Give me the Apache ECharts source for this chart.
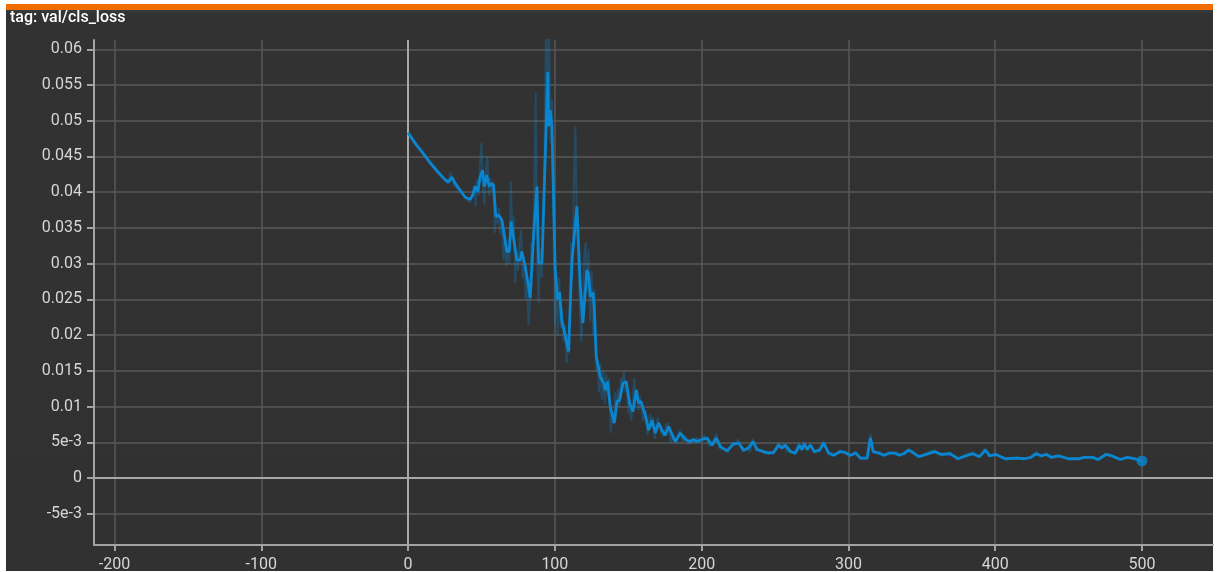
<!DOCTYPE html>
<html>
<head>
<meta charset="utf-8">
<title>val/cls_loss</title>
<script src="https://cdn.jsdelivr.net/npm/echarts@6/dist/echarts.min.js"></script>
<style>
  html, body { margin: 0; padding: 0; background: #ffffff; width: 1219px; height: 572px; overflow: hidden; }
  #panel {
    position: absolute; left: 6px; top: 4px; width: 1207px; height: 567px;
    box-sizing: border-box; border-top: 6px solid #ef6c00;
    background: linear-gradient(#3b3b3b 0px, #323232 4px, #313131 100%);
  }
  #chart { position: absolute; left: 0; top: 0; width: 1219px; height: 572px; }
</style>
</head>
<body>
<div id="panel"></div>
<div id="chart"></div>
<script>
// Run tag shown in the card header
const tagName = 'tag: val/cls_loss';

// Smoothed validation classification loss: [step, value]
const smoothed = [
  [0,0.0483],[5,0.0468],[10,0.0455],[15,0.0441],[20,0.0429],[25,0.0418],[27.5,0.0414],[29.8,0.0421],
  [32,0.0413],[35,0.0404],[38.9,0.0393],[42.3,0.0390],[44,0.0396],[45.7,0.0408],[47.5,0.0401],[49,0.0420],
  [50.7,0.0431],[52,0.0408],[53.6,0.0424],[55.2,0.0408],[56.5,0.0412],[58.2,0.0410],[59.8,0.0366],[61.6,0.0368],
  [63.9,0.0361],[67.3,0.0317],[68.9,0.0317],[70.2,0.0359],[71.1,0.0357],[74.1,0.0305],[76.4,0.0305],[77.5,0.0317],
  [79.8,0.0296],[81.5,0.0275],[83.2,0.0252],[85.4,0.0336],[86.6,0.0338],[87.8,0.0408],[88.9,0.0301],[91.2,0.0301],
  [93,0.0420],[95.2,0.0568],[95.7,0.0492],[96.8,0.0515],[98,0.0492],[100.2,0.0295],[101.8,0.0250],[103.2,0.0260],
  [104.8,0.0219],[107,0.0200],[109.3,0.0177],[111.6,0.0303],[112.8,0.0305],[115,0.0380],[117.3,0.0270],[119.1,0.0217],
  [121.8,0.0291],[123,0.0285],[124.1,0.0254],[126,0.0259],[126.8,0.0240],[128.2,0.0170],[130.9,0.0142],[133.2,0.0133],
  [134.4,0.0123],[135.9,0.0135],[137.7,0.0100],[140.5,0.0077],[142.3,0.0107],[144.1,0.0109],[146.4,0.0133],[148.6,0.0135],
  [150.9,0.0105],[153.2,0.0093],[155.5,0.0123],[157,0.0105],[158.7,0.0107],[161.6,0.0088],[163.9,0.0067],[166.2,0.0081],
  [168.4,0.0063],[170.7,0.0077],[173,0.0067],[175.2,0.0060],[177.5,0.0072],[178.7,0.0073],[182,0.0051],[185.5,0.0063],
  [188.9,0.0054],[192.3,0.0051],[194.5,0.0054],[196.9,0.0051],[200.1,0.0054],[203.7,0.0056],[207.1,0.0046],[210,0.0056],
  [212.8,0.0044],[217.3,0.0038],[221.8,0.0048],[225.2,0.0049],[228.6,0.0039],[232,0.0042],[235,0.0051],[237.8,0.0040],
  [242.3,0.0037],[245.7,0.0035],[249,0.0036],[252.5,0.0046],[254.8,0.0042],[257.1,0.0046],[260.5,0.0037],[263.9,0.0035],
  [266.8,0.0046],[268.4,0.0040],[270,0.0048],[271.8,0.0040],[274.1,0.0046],[276.8,0.0037],[280.5,0.0039],[283.2,0.0049],
  [286.6,0.0035],[290,0.0032],[294.6,0.0037],[297.5,0.0036],[301.4,0.0032],[304.8,0.0035],[308.2,0.0028],[312.8,0.0028],
  [315,0.0056],[316.9,0.0037],[320.7,0.0035],[324.1,0.0032],[328.7,0.0035],[332.1,0.0035],[334.4,0.0032],[337.8,0.0034],
  [341.2,0.0039],[344.6,0.0035],[348,0.0030],[353,0.0033],[358.8,0.0037],[363.5,0.0033],[369.3,0.0034],[374.7,0.0027],
  [379.9,0.0031],[384.6,0.0034],[389.2,0.0030],[393.4,0.0039],[396.3,0.0031],[400.5,0.0033],[406.8,0.0027],[415,0.0028],
  [419.7,0.0027],[424.4,0.0029],[427.9,0.0034],[431.4,0.0031],[434.9,0.0033],[438.4,0.0029],[443.1,0.0031],[450.1,0.0027],
  [457.2,0.0027],[460.7,0.0029],[466.5,0.0029],[470.1,0.0026],[475.5,0.0033],[479.5,0.0031],[485.3,0.0026],[490,0.0029],
  [495,0.0027],[500,0.0024]
];

// Unsmoothed per-step values: [step, value]
const raw = [
  [0,0.0483],[10,0.0455],[20,0.0431],[27,0.0412],[29,0.0428],[31,0.0410],[36,0.0400],[40,0.0390],[42,0.0386],
  [44,0.0395],[45,0.0410],[46,0.0380],[47,0.0418],[48,0.0395],[49,0.0440],[50,0.0469],[51,0.0405],[52,0.0382],
  [53,0.0432],[54,0.0450],[55,0.0395],[56,0.0420],[57,0.0400],[58,0.0415],[59,0.0343],[60,0.0372],[61,0.0355],
  [62,0.0378],[63,0.0340],[64,0.0362],[65,0.0305],[66,0.0330],[67,0.0296],[68,0.0325],[69,0.0300],[70,0.0415],
  [71,0.0350],[72,0.0366],[73,0.0273],[74,0.0318],[75,0.0290],[76,0.0330],[77,0.0347],[78,0.0280],[79,0.0310],
  [80,0.0250],[81,0.0285],[82,0.0214],[83,0.0240],[84,0.0330],[85,0.0290],[86,0.0408],[87,0.0539],[88,0.0300],
  [89,0.0245],[90,0.0320],[91,0.0280],[92,0.0360],[93,0.0470],[94,0.0640],[95,0.0520],[96,0.0640],[97,0.0470],
  [98,0.0530],[99,0.0350],[100,0.0215],[101,0.0270],[102,0.0200],[103,0.0280],[104,0.0210],[105,0.0235],[106,0.0190],
  [107,0.0215],[108,0.0161],[109,0.0190],[110,0.0175],[111,0.0330],[112,0.0280],[113,0.0420],[114,0.0492],[115,0.0350],
  [116,0.0300],[117,0.0240],[118,0.0190],[119,0.0230],[120,0.0310],[121,0.0330],[122,0.0260],[123,0.0320],[124,0.0220],
  [125,0.0290],[126,0.0200],[127,0.0265],[128,0.0150],[129,0.0165],[130,0.0120],[131,0.0160],[132,0.0110],[133,0.0150],
  [134,0.0105],[135,0.0145],[136,0.0115],[137,0.0140],[138,0.0063],[139,0.0090],[140,0.0075],[141,0.0120],[142,0.0095],
  [143,0.0125],[144,0.0100],[145,0.0140],[146,0.0125],[147,0.0150],[148,0.0120],[149,0.0135],[150,0.0090],[151,0.0110],
  [152,0.0080],[153,0.0100],[154,0.0140],[155,0.0110],[156,0.0125],[157,0.0095],[158,0.0115],[160,0.0080],[162,0.0095],
  [163,0.0060],[165,0.0090],[166,0.0070],[167,0.0085],[168,0.0055],[170,0.0085],[172,0.0065],[174,0.0058],[176,0.0075],
  [177,0.0078],[179,0.0050],[181,0.0060],[183,0.0048],[185,0.0068],[187,0.0050],[189,0.0060],[191,0.0047],[193,0.0055],
  [195,0.0049],[197,0.0057],[199,0.0050],[202,0.0060],[205,0.0044],[208,0.0052],[210,0.0062],[212,0.0042],[215,0.0040],
  [218,0.0036],[221,0.0050],[223,0.0046],[225,0.0054],[228,0.0037],[231,0.0043],[233,0.0036],[235,0.0055],[237,0.0038],
  [240,0.0039],[243,0.0034],[246,0.0037],[249,0.0033],[252,0.0050],[254,0.0040],[256,0.0049],[258,0.0036],[260,0.0040],
  [263,0.0033],[266,0.0050],[268,0.0038],[270,0.0051],[272,0.0038],[274,0.0049],[277,0.0035],[280,0.0041],[283,0.0052],
  [286,0.0033],[290,0.0031],[294,0.0039],[298,0.0034],[301,0.0030],[305,0.0037],[308,0.0026],[312,0.0027],[315,0.0062],
  [317,0.0035],[321,0.0037],[324,0.0030],[328,0.0037],[332,0.0033],[335,0.0031],[338,0.0036],[341,0.0041],[345,0.0033],
  [348,0.0029],[353,0.0035],[358,0.0039],[363,0.0031],[369,0.0036],[374,0.0026],[380,0.0033],[385,0.0036],[389,0.0029],
  [393,0.0042],[396,0.0030],[400,0.0034],[407,0.0026],[415,0.0029],[420,0.0026],[424,0.0030],[428,0.0036],[431,0.0030],
  [435,0.0034],[438,0.0028],[443,0.0032],[450,0.0026],[457,0.0028],[461,0.0030],[466,0.0028],[470,0.0025],[475,0.0034],
  [480,0.0030],[485,0.0025],[490,0.0030],[495,0.0026],[500,0.0024]
];

// Axis ticks and their printed labels
const xTicks = [-200, -100, 0, 100, 200, 300, 400, 500];
const yTicks = [-0.005, 0, 0.005, 0.01, 0.015, 0.02, 0.025, 0.03, 0.035, 0.04, 0.045, 0.05, 0.055, 0.06];
const yTickLabels = ['-5e-3', '0', '5e-3', '0.01', '0.015', '0.02', '0.025', '0.03', '0.035', '0.04', '0.045', '0.05', '0.055', '0.06'];

const lineBlue = '#0a86d0';
const axisGrey = '#a3a3a3';
const gridGrey = '#585858';
const labelGrey = '#d6d6d6';
const fontFamily = 'Roboto, "Noto Sans", sans-serif';

function yLabel(v) {
  let best = 0;
  for (let i = 1; i < yTicks.length; i++) {
    if (Math.abs(yTicks[i] - v) < Math.abs(yTicks[best] - v)) best = i;
  }
  return yTickLabels[best];
}

const chart = echarts.init(document.getElementById('chart'), null, { renderer: 'canvas' });

chart.setOption({
  animation: false,
  backgroundColor: 'transparent',
  title: {
    text: tagName,
    left: 10,
    top: 10,
    padding: 0,
    textStyle: { color: '#ffffff', fontSize: 16, fontWeight: 500, fontFamily: fontFamily }
  },
  grid: {
    left: 94, right: 6, top: 40, bottom: 27,
    containLabel: false,
    outerBoundsMode: 'none'
  },
  xAxis: {
    type: 'value',
    min: -214,
    max: 548.4,
    position: 'bottom',
    axisLine: { show: true, onZero: false, lineStyle: { color: axisGrey, width: 2 } },
    axisTick: { show: true, length: 6, customValues: xTicks, lineStyle: { color: axisGrey, width: 2 } },
    axisLabel: {
      customValues: xTicks,
      margin: 12,
      color: labelGrey,
      fontSize: 16,
      fontFamily: fontFamily,
      formatter: v => String(Math.round(v))
    },
    splitLine: { show: true, customValues: xTicks, lineStyle: { color: gridGrey, width: 1.5 } }
  },
  yAxis: {
    type: 'value',
    min: -0.00937,
    max: 0.0613,
    position: 'left',
    axisLine: { show: true, onZero: false, lineStyle: { color: axisGrey, width: 2 } },
    axisTick: { show: true, length: 7, customValues: yTicks, lineStyle: { color: axisGrey, width: 2 } },
    axisLabel: {
      customValues: yTicks,
      margin: 12,
      color: labelGrey,
      fontSize: 16,
      fontFamily: fontFamily,
      formatter: yLabel
    },
    splitLine: { show: true, customValues: yTicks, lineStyle: { color: gridGrey, width: 1.5 } }
  },
  series: [
    {
      name: 'raw',
      type: 'line',
      data: raw,
      showSymbol: false,
      symbol: 'none',
      silent: true,
      z: 2,
      lineStyle: { color: lineBlue, opacity: 0.3, width: 2 }
    },
    {
      name: 'smoothed',
      type: 'line',
      data: smoothed,
      showSymbol: false,
      symbol: 'none',
      z: 3,
      lineStyle: { color: lineBlue, width: 2.8 },
      markLine: {
        silent: true,
        symbol: ['none', 'none'],
        label: { show: false },
        animation: false,
        z: 1,
        lineStyle: { color: '#a8a8a8', width: 2, type: 'solid', opacity: 1 },
        data: [{ xAxis: 0 }, { yAxis: 0 }]
      }
    },
    {
      name: 'latest',
      type: 'scatter',
      data: [smoothed[smoothed.length - 1]],
      symbol: 'circle',
      symbolSize: 11,
      z: 4,
      itemStyle: { color: lineBlue }
    }
  ]
});
</script>
</body>
</html>
